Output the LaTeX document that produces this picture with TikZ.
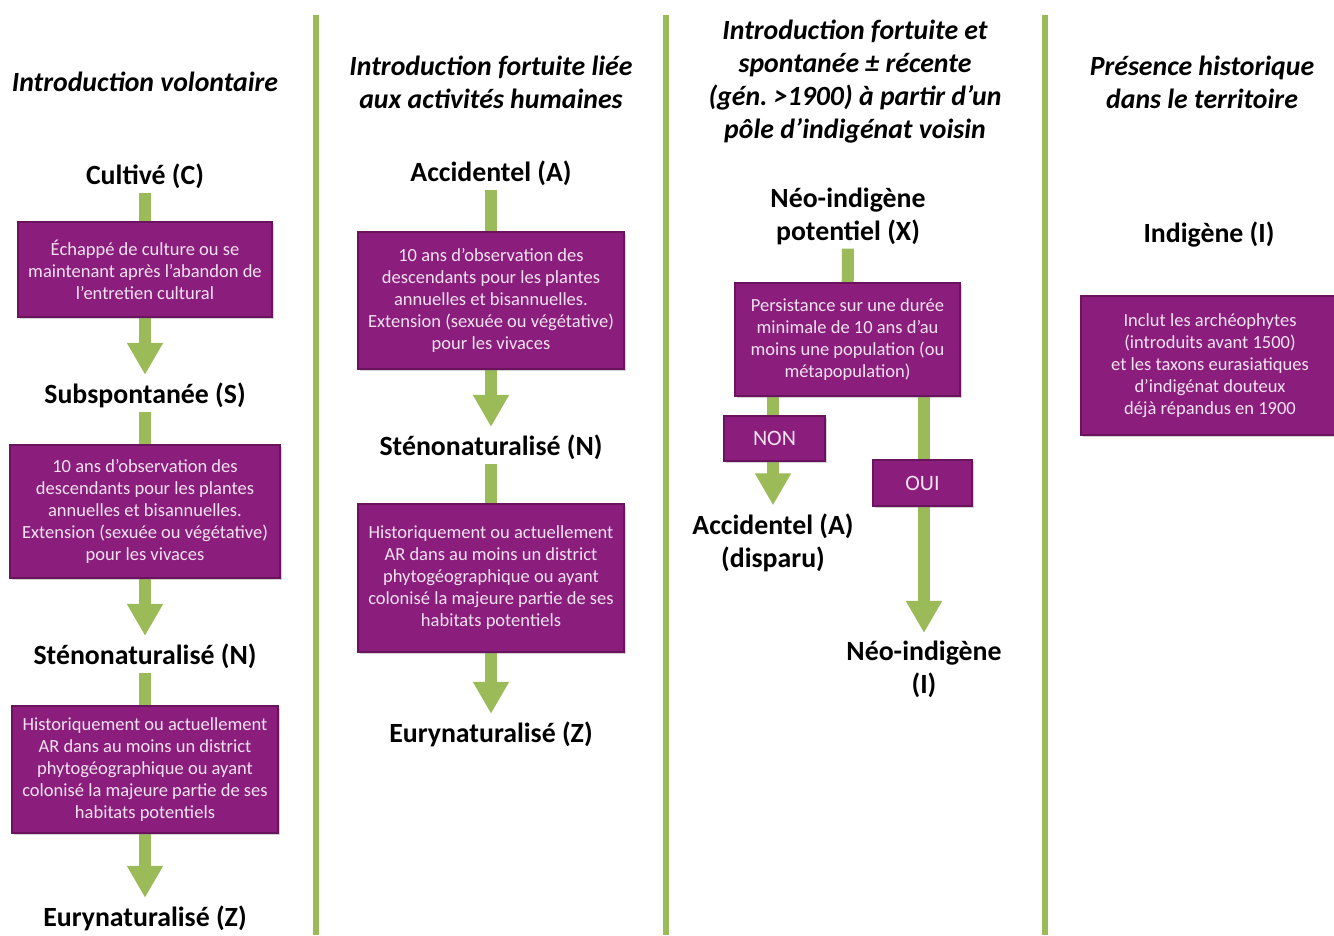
\documentclass[tikz,border=0pt]{standalone}
\usepackage{fontspec}
\setmainfont{Carlito}
\frenchspacing
\usetikzlibrary{arrows.meta}
\usetikzlibrary{backgrounds}
\usetikzlibrary{shadows}
\definecolor{boxpurple}{RGB}{139,30,124}
\definecolor{boxrim}{RGB}{105,20,92}
\definecolor{boxtext}{RGB}{243,226,240}
\definecolor{flowgreen}{RGB}{155,187,89}
\tikzset{Title/.style={font=\fontsize{27.8}{33}\selectfont\bfseries\itshape, align=center, inner sep=0pt, yshift=-1.5pt},
         Stage/.style={font=\fontsize{27.8}{33}\selectfont\bfseries, align=center, inner sep=4pt, yshift=-1.5pt},
         Crit/.style={fill=boxpurple, draw=boxrim, line width=2pt, text=boxtext, align=center, inner sep=0pt,
                      font=\fontsize{18.5}{22}\selectfont, drop shadow={opacity=0.35, shadow xshift=2pt, shadow yshift=-2pt}},
         Flow/.style={draw=flowgreen, line width=12pt, -{Triangle[width=34pt,length=32pt]}, shorten >=4pt},
         Sep/.style={draw=flowgreen, line width=6pt}}

\begin{document}
\begin{tikzpicture}[x=1pt, y=-1pt]
    \useasboundingbox (0,0) rectangle (1334,935);
    \node[Title] (T1) at (145,80) {Introduction volontaire};
    \node[Stage] (C1) at (145,175) {Cultivé (C)};
    \node[Crit, minimum width=254pt, minimum height=95pt] (B1) at (145,269.5) {Échappé de culture ou se\\maintenant après l’abandon de\\l’entretien cultural};
    \node[Stage] (S1) at (145,394) {Subspontanée (S)};
    \node[Crit, minimum width=270pt, minimum height=133pt] (B2) at (145,511.5) {10 ans d’observation des\\descendants pour les plantes\\annuelles et bisannuelles.\\Extension (sexuée ou végétative)\\pour les vivaces};
    \node[Stage] (N1) at (145,655) {Sténonaturalisé (N)};
    \node[Crit, minimum width=266pt, minimum height=127pt] (B3) at (145,769.5) {Historiquement ou actuellement\\AR dans au moins un district\\phytogéographique ou ayant\\colonisé la majeure partie de ses\\habitats potentiels};
    \node[Stage] (Z1) at (145,917) {Eurynaturalisé (Z)};

    \node[Title] (T2) at (491,80.5) {Introduction fortuite liée\\aux activités humaines};
    \node[Stage] (A2) at (491,172) {Accidentel (A)};
    \node[Crit, minimum width=266pt, minimum height=137pt] (B4) at (491,300.5) {10 ans d’observation des\\descendants pour les plantes\\annuelles et bisannuelles.\\Extension (sexuée ou végétative)\\pour les vivaces};
    \node[Stage] (N2) at (491,446) {Sténonaturalisé (N)};
    \node[Crit, minimum width=266pt, minimum height=148pt] (B5) at (491,578) {Historiquement ou actuellement\\AR dans au moins un district\\phytogéographique ou ayant\\colonisé la majeure partie de ses\\habitats potentiels};
    \node[Stage] (Z2) at (491,733) {Eurynaturalisé (Z)};

    \node[Title] (T3) at (855,80.5) {Introduction fortuite et\\spontanée ± récente\\(gén. >1900) à partir d’un\\pôle d’indigénat voisin};
    \node[Stage] (X3) at (848,214.5) {Néo-indigène\\potentiel (X)};
    \node[Crit, minimum width=225pt, minimum height=113pt] (B6) at (847.5,339.5) {Persistance sur une durée\\minimale de 10 ans d’au\\moins une population (ou\\métapopulation)};
    \node[Crit, minimum width=101pt, minimum height=45pt, font=\fontsize{22}{26}\selectfont] (NON) at (774.5,438.5) {NON};
    \node[Crit, minimum width=99pt, minimum height=46pt, font=\fontsize{22}{26}\selectfont] (OUI) at (922.5,483) {OUI};
    \node[Stage] (A3) at (773,541) {Accidentel (A)\\(disparu)};
    \node[Stage] (I3) at (924,668) {Néo-indigène\\(I)};

    \node[Title] (T4) at (1202,80.5) {Présence historique\\dans le territoire};
    \node[Stage] (I4) at (1209,233) {Indigène (I)};
    \node[Crit, minimum width=258pt, minimum height=139pt] (B7) at (1210,365.5) {Inclut les archéophytes\\(introduits avant 1500)\\et les taxons eurasiatiques\\d’indigénat douteux\\déjà répandus en 1900};

    \draw[Sep] (316,15) -- (316,935);
    \draw[Sep] (666,15) -- (666,935);
    \draw[Sep] (1045,15) -- (1045,935);

  \begin{scope}[on background layer]
    \fill[white] (0,0) rectangle (1334,935);
    \draw[Flow] (C1) -- (S1);
    \draw[Flow] (S1) -- (N1);
    \draw[Flow] (N1) -- (Z1);
    \draw[Flow] (A2) -- (N2);
    \draw[Flow] (N2) -- (Z2);
    \draw[Flow, -, shorten >=0pt] (X3) -- (B6);
    \draw[Flow] (B6.south -| A3) -- (A3);
    \draw[Flow] (B6.south -| I3) -- (I3);
  \end{scope}
\end{tikzpicture}
\end{document}
